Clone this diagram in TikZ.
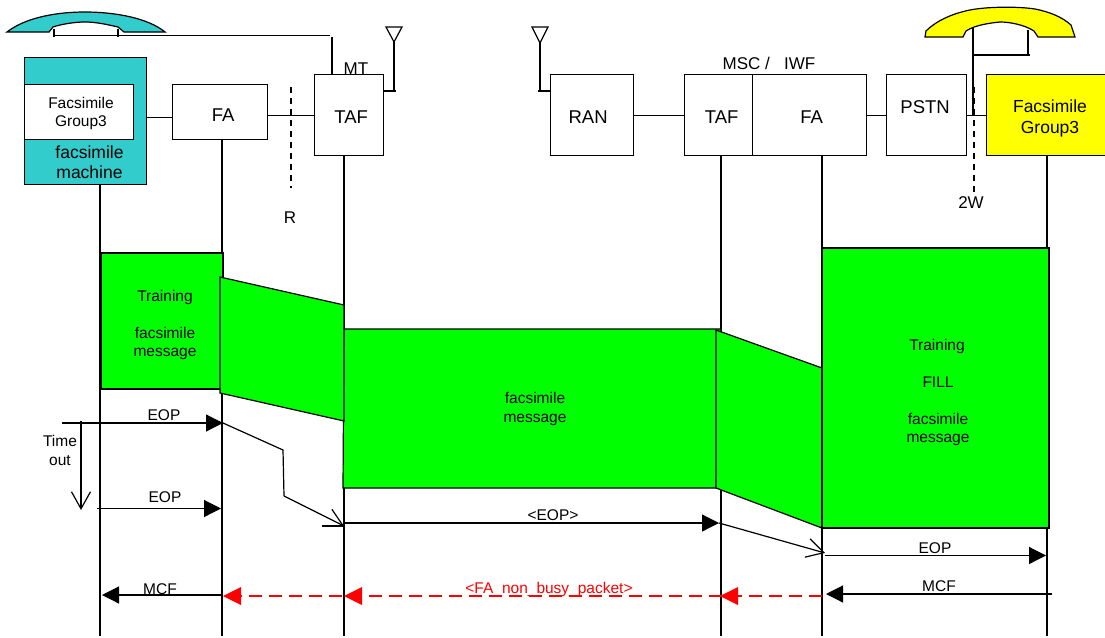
\documentclass[tikz,border=0pt]{standalone}
\usepackage{fontspec}
\setmainfont{Liberation Sans}
\usetikzlibrary{arrows.meta,positioning}
\definecolor{teal1}{HTML}{33CCCC}
\definecolor{grn}{HTML}{00FF00}
\definecolor{yel}{HTML}{FFFF00}
\newcommand{\shifted}[3]{\raisebox{#2pt}[0pt][0pt]{\hspace*{#1pt}#3}}
\tikzset{
  box/.style={draw=black,line width=1.2pt,fill=white,inner sep=0pt,align=center,font=\fontsize{18.5}{19}\selectfont,anchor=north west},
  lbl/.style={inner sep=0pt,align=center,font=\fontsize{17}{18}\selectfont},
  smalltext/.style={inner sep=0pt,align=center,font=\fontsize{15.5}{18.5}\selectfont},
  wire/.style={draw=black,line width=1.2pt},
  life/.style={draw=black,line width=1.2pt},
  greenblock/.style={draw=black,line width=1.2pt,fill=grn},
  solidhead/.style={draw=black,line width=1.2pt,-{Triangle[length=17pt,width=17pt,fill=black]}},
  openhead/.style={draw=black,line width=1.2pt,-{Straight Barb[length=17pt,width=19pt,line width=1.2pt]}},
  redline/.style={draw=red,line width=1.3pt,dash pattern=on 13pt off 7pt},
  redhead/.style={draw=none,fill=red},
  dashv/.style={draw=black,line width=1.2pt,dash pattern=on 6pt off 5pt},
}
\begin{document}
\begin{tikzpicture}[x=1pt,y=-1pt]
\useasboundingbox (0,0) rectangle (1105,637);
% handsets
\fill[teal1,draw=black,line width=1.2pt] (7,32) .. controls (25,18) and (55,12) .. (85,12) .. controls (115,12) and (148,18) .. (165,32) -- (124,32) -- (118,27) .. controls (105,24) and (95,22) .. (85,22) .. controls (75,22) and (62,24) .. (53,27) -- (49,32) -- cycle;
\fill[yel,draw=black,line width=1.2pt] (925,37) -- (926,31) .. controls (935,22) and (950,14) .. (970,10) .. controls (985,7) and (1015,6) .. (1035,9) .. controls (1050,12) and (1062,17) .. (1071,25) -- (1075,37) -- (1038,37) -- (1034,31) .. controls (1025,25) and (1010,22) .. (1000,22) .. controls (990,23) and (975,25) .. (966,31) -- (963,37) -- cycle;
% top texts under boxes
\node[lbl] (mt) at (356,69) {MT};
\node[lbl] (msc) at (769,63) {MSC /\ \ \ IWF};
% boxes
\node[box,fill=teal1,minimum width=122pt,minimum height=127pt] (fm) at (24,57) {};
\node[box,minimum width=109pt,minimum height=55pt] (fg) at (24,84) {};
\node[smalltext] (fgt) at (81,113.5) {Facsimile\\Group3};
\node[lbl,font=\fontsize{17.5}{20}\selectfont] (fmt) at (89.5,162) {facsimile\\machine};
\node[box,minimum width=95pt,minimum height=55pt] (fa1) at (172,84) {\shifted{6}{-9}{FA}};
\node[box,minimum width=69pt,minimum height=81pt] (taf1) at (314,74) {\shifted{4}{-8}{TAF}};
\node[box,minimum width=83pt,minimum height=81pt] (ran) at (550,74) {\shifted{-8}{-8}{RAN}};
\node[box,minimum width=68pt,minimum height=81pt] (taf2) at (684,74) {\shifted{6}{-8}{TAF}};
\node[box,minimum width=114pt,minimum height=81pt] (fa2) at (752,74) {\shifted{4}{-8}{FA}};
\node[box,minimum width=80pt,minimum height=81pt] (pstn) at (886,74) {\shifted{-3}{2}{PSTN}};
\node[box,fill=yel,minimum width=125pt,minimum height=81pt] (fy) at (986,74) {};
\node[lbl,font=\fontsize{17.5}{21}\selectfont] (fyt) at (1050,118.5) {Facsimile\\Group3};
% coordinates
\coordinate (hl1) at (54,29); \coordinate (hl1b) at (54,37);
\coordinate (hl2) at (118,29); \coordinate (hl2b) at (118,37);
\coordinate (wl1) at (54,35.5); \coordinate (wl2) at (330,35.5);
\coordinate (wl3) at (332,37);
\coordinate (ant1a) at (386,27); \coordinate (ant1b) at (402,27); \coordinate (ant1c) at (394,42); \coordinate (ant1d) at (394,91); \coordinate (ant1e) at (396,91);
\coordinate (ant2a) at (532,27); \coordinate (ant2b) at (548,27); \coordinate (ant2c) at (540,43); \coordinate (ant2d) at (540,91); \coordinate (ant2e) at (538,91);
\coordinate (wr1) at (973,28); \coordinate (wr2) at (973,116); \coordinate (wr3) at (1028,30); \coordinate (wr4) at (1028,55); \coordinate (wr5) at (973,55); \coordinate (wr6) at (1030,55);
% links
\draw[wire] (hl1) -- (hl1b);
\draw[wire] (hl2) -- (hl2b);
\draw[wire] (wl1) -- (wl2);
\draw[wire] (wl3) -- (wl3 |- taf1.north);
\draw[wire] (ant1a) -- (ant1b) -- (ant1c) -- cycle;
\draw[wire] (ant1c) -- (ant1d);
\draw[wire] (taf1.east |- ant1d) -- (ant1e);
\draw[wire] (ant2a) -- (ant2b) -- (ant2c) -- cycle;
\draw[wire] (ant2c) -- (ant2d);
\draw[wire] (ant2e) -- (ran.west |- ant2e);
\draw[wire] (wr1) -- (wr2);
\draw[wire] (wr3) -- (wr4);
\draw[wire] (wr5) -- (wr6);
\draw[wire] (fm.east |- 0,117.5) -- (fa1.west |- 0,117.5);
\draw[wire] (fa1.east |- 0,115.5) -- (taf1.west |- 0,115.5);
\draw[wire] (ran.east |- 0,115.5) -- (taf2.west |- 0,115.5);
\draw[wire] (fa2.east |- 0,115.5) -- (pstn.west |- 0,115.5);
\draw[wire] (pstn.east |- 0,115.5) -- (fy.west |- 0,115.5);
% reference points
\coordinate (r1) at (291,87); \coordinate (r2) at (291,188);
\coordinate (w1) at (974,87); \coordinate (w2) at (974,194);
\draw[dashv] (r1) -- (r2);
\draw[dashv] (w1) -- (w2);
\node[lbl] (rl) at (290,218) {R};
\node[lbl] (wl) at (971,203) {2W};
% lifelines
\coordinate (b1) at (100,636); \coordinate (b2) at (222,636); \coordinate (b3) at (344,636);
\coordinate (b4) at (721,636); \coordinate (b5) at (822,636); \coordinate (b6) at (1047,636);
\draw[life] (b1 |- fm.south) -- (b1);
\draw[life] (b2 |- fa1.south) -- (b2);
\draw[life] (b3 |- taf1.south) -- (b3);
\draw[life] (b4 |- taf2.south) -- (b4);
\draw[life] (b5 |- fa2.south) -- (b5);
\draw[life] (b6 |- fy.south) -- (b6);
% green blocks
\draw[greenblock] (101,253) -- (223,253) -- (223,389) -- (101,389) -- cycle;
\draw[greenblock] (344,329) -- (721,329) -- (716,488) -- (343,488) -- cycle;
\draw[greenblock] (220,277) -- (344,305) -- (344,421) -- (220,393) -- cycle;
\draw[greenblock] (716,330) -- (822,368) -- (822,528) -- (716,488) -- cycle;
\draw[greenblock] (822,248) -- (1049,248) -- (1049,528) -- (822,528) -- cycle;
% block texts
\node[smalltext] (t1) at (165,297.5) {Training};
\node[smalltext] (t2) at (165,343.5) {facsimile\\message};
\node[smalltext] (t3) at (535,409) {facsimile\\message};
\node[smalltext] (t4) at (937,346.5) {Training};
\node[smalltext] (t5) at (938,382.5) {FILL};
\node[smalltext] (t6) at (938,429.5) {facsimile\\message};
% messages
\coordinate (e1a) at (62,423); \coordinate (e1b) at (223,423);
\coordinate (to1) at (81,421); \coordinate (to2) at (81,510);
\coordinate (e2a) at (97,508.5); \coordinate (e2b) at (221,508.5);
\coordinate (z1) at (283,450); \coordinate (z2) at (284,496); \coordinate (z3) at (344,526); \coordinate (z0) at (322,526);
\coordinate (e3a) at (344,523); \coordinate (e3b) at (719,523);
\coordinate (z4) at (825,553);
\coordinate (e4a) at (825,555.5); \coordinate (e4b) at (1046,555.5);
\coordinate (m1a) at (1052,594); \coordinate (m1b) at (826,594);
\coordinate (m2a) at (223,595); \coordinate (m2b) at (102,595);
\coordinate (ra) at (822,596); \coordinate (rb) at (240,596);
\draw[solidhead] (e1a) -- (e1b);
\draw[openhead] (to1) -- (to2);
\draw[solidhead] (e2a) -- (e2b);
\draw[wire] (e1b) -- (z1) -- (z2);
\draw[openhead] (z2) -- (z3);
\draw[wire] (z0) -- (z3);
\draw[solidhead] (e3a) -- (e3b);
\draw[openhead] (e3b) -- (z4);
\draw[solidhead] (e4a) -- (e4b);
\draw[solidhead] (m1a) -- (m1b);
\draw[solidhead] (m2a) -- (m2b);
\draw[redline] (ra) -- (rb);
\foreach \hx/\hn in {223/h1,344/h2,720/h3}{
  \coordinate (\hn) at (\hx,596);
  \fill[redhead] (\hn) -- ++(18,-9) -- ++(0,18) -- cycle;
}
% message labels
\node[smalltext] (l1) at (164,415) {EOP};
\node[smalltext] (l2) at (165,497) {EOP};
\node[smalltext] (l3) at (553,515) {<EOP>};
\node[smalltext] (l4) at (935,548) {EOP};
\node[smalltext] (l5) at (160,589) {MCF};
\node[smalltext] (l6) at (939,586) {MCF};
\node[smalltext,text=red] (l7) at (549,589) {<FA\_non\_busy\_packet>};
\node[smalltext] (l8) at (60,450.5) {Time\\out};
\end{tikzpicture}
\end{document}
